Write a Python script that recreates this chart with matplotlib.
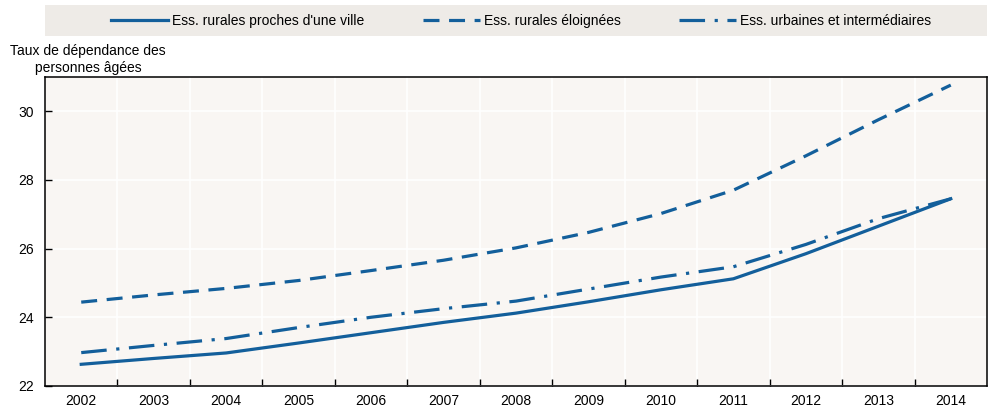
import numpy as np
import matplotlib
matplotlib.use("Agg")
import matplotlib.pyplot as plt
from matplotlib.ticker import FixedLocator

plt.rcParams['font.family'] = ['Liberation Sans', 'DejaVu Sans']

years = list(range(2002, 2015))
rural_proche = [22.63, 22.80, 22.96, 23.25, 23.55, 23.85, 24.12, 24.45, 24.80, 25.12, 25.85, 26.65, 27.45]
rural_eloigne = [24.44, 24.65, 24.84, 25.07, 25.36, 25.66, 26.02, 26.47, 27.02, 27.70, 28.70, 29.75, 30.76]
urbain = [22.97, 23.18, 23.38, 23.70, 24.00, 24.25, 24.47, 24.82, 25.17, 25.47, 26.12, 26.87, 27.45]
labels = ["Ess. rurales proches d'une ville", "Ess. rurales éloignées", "Ess. urbaines et intermédiaires"]
y_ticks = [22, 24, 26, 28, 30]

blue = '#135f9b'

fig = plt.figure(figsize=(10, 4.11), dpi=100)
ax = fig.add_axes([0.045, 0.061, 0.942, 0.752])
ax.set_facecolor('#f9f6f3')

ax.plot(years, rural_proche, color=blue, lw=2.3, label=labels[0])
ax.plot(years, rural_eloigne, color=blue, lw=2.3, dashes=(5, 3), label=labels[1])
ax.plot(years, urbain, color=blue, lw=2.3, dashes=(8, 3, 1, 3), label=labels[2])

ax.set_xlim(2001.5, 2014.5)
ax.set_ylim(22, 31)
ax.set_xticks(years)
ax.xaxis.set_minor_locator(FixedLocator(np.arange(2002.5, 2014, 1)))
ax.set_yticks(y_ticks)
ax.tick_params(axis='x', which='major', length=0, labelsize=10, pad=6)
ax.tick_params(axis='x', which='minor', direction='in', length=5, width=1)
ax.tick_params(axis='y', direction='in', length=5, width=1, labelsize=10, pad=8)
ax.grid(True, axis='y', color='white', lw=1.2)
ax.grid(True, axis='x', which='minor', color='white', lw=1.2)
ax.set_axisbelow(True)
for s in ax.spines.values():
    s.set_color('black')
    s.set_linewidth(1.1)

fig.text(0.088, 0.855, "Taux de dépendance des\npersonnes âgées", ha='center', va='center',
         fontsize=10, linespacing=1.25)

# grey band behind the legend
band = plt.Rectangle((0.045, 0.912), 0.942, 0.076, transform=fig.transFigure,
                     facecolor='#eeebe7', edgecolor='none', zorder=0)
fig.patches.append(band)

leg = fig.legend(loc='center', bbox_to_anchor=(0.521, 0.950),
                 ncol=3, frameon=False, fontsize=10, handlelength=4.1,
                 handletextpad=0.3, columnspacing=4.2)

fig.savefig('out.png', dpi=100, facecolor='white')
